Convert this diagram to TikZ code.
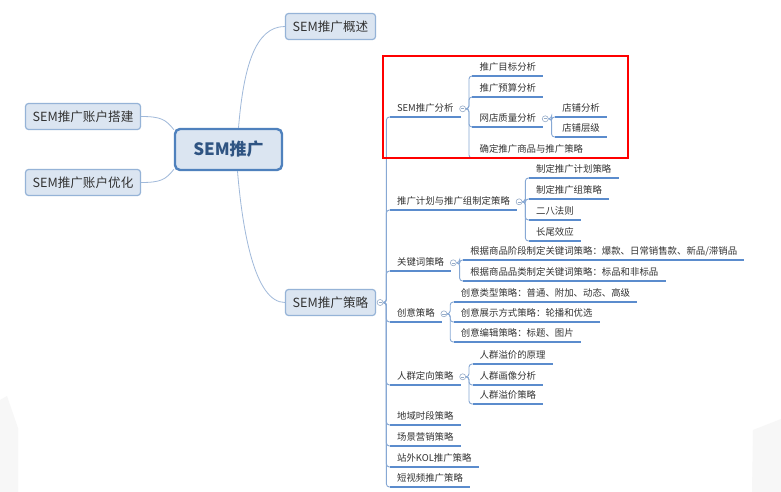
\documentclass[tikz,border=0pt]{standalone}
\usepackage{fontspec}
\newfontfamily\cjkfont{Noto Sans CJK SC}
\definecolor{boxfill}{RGB}{219,229,241}
\definecolor{boxline}{RGB}{149,179,215}
\definecolor{rootline}{RGB}{79,129,189}
\definecolor{roottext}{RGB}{47,84,130}
\definecolor{ulinec}{RGB}{91,140,205}
\definecolor{linkc}{RGB}{135,168,212}
\definecolor{branchc}{RGB}{160,185,218}
\definecolor{togc}{RGB}{150,172,200}
\definecolor{textc}{RGB}{51,51,51}
\begin{document}
\begin{tikzpicture}[x=1pt, y=1pt,
  every node/.style={font=\cjkfont, text=textc},
  rootbox/.style={draw=rootline, line width=2.4pt, fill=boxfill, rounded corners=5pt,
    minimum width=107pt, minimum height=41pt, text=roottext,
    font=\cjkfont\bfseries\fontsize{17}{20}\selectfont},
  topic/.style={draw=boxline, line width=1.2pt, fill=boxfill, rounded corners=3pt,
    minimum width=90pt, minimum height=26pt, font=\cjkfont\fontsize{12.6}{15}\selectfont},
  leaf/.style={anchor=south west, inner xsep=7pt, inner ysep=3pt, text height=8pt,
    text depth=2pt, font=\cjkfont\fontsize{9.4}{11}\selectfont},
  tog/.style={circle, draw=togc, line width=0.6pt, fill=white, inner sep=0pt, minimum size=6pt,
    path picture={\draw[togc, line width=0.6pt] ([xshift=1.4pt]path picture bounding box.west)
      -- ([xshift=-1.4pt]path picture bounding box.east);}},
  link/.style={draw=linkc, line width=0.9pt, rounded corners=3pt},
  uline/.style={draw=ulinec, line width=1.4pt},
  branch/.style={draw=branchc, line width=0.8pt}]
  \useasboundingbox[fill=white] (0,0) rectangle (781,-492);
  % faint shapes in the lower corners
  \fill[black!3] (0,-400) -- (7,-396) -- (18,-428) -- (18,-492) -- (0,-492) -- cycle;
  \fill[black!3] (781,-419) -- (753,-430) -- (752,-492) -- (781,-492) -- cycle;

  % centre and first level
  \node[rootbox] (root) at (228.5,-149.5) {SEM推广};
  \node[topic] (ov) at (330.5,-26.5) {SEM推广概述};
  \node[topic, minimum width=115pt] (acc) at (83,-116.5) {SEM推广账户搭建};
  \node[topic, minimum width=115pt] (opt) at (83,-182.5) {SEM推广账户优化};
  \node[topic] (st) at (330.5,-302.5) {SEM推广策略};
  \draw[branch] ([xshift=10pt]root.north) .. controls +(5,60) and +(-30,0) .. (ov.west);
  \draw[branch] ([xshift=9pt]root.south) .. controls +(5,-60) and +(-30,0) .. (st.west);
  \draw[branch] (root.160) .. controls +(-8,10) and +(20,0) .. (acc.east);
  \draw[branch] (root.200) .. controls +(-8,-10) and +(20,0) .. (opt.east);

  % strategy trunk
  \node[tog] (t0) at ([xshift=4pt]st.east) {};
  \coordinate (j0) at ([xshift=6.5pt]t0.east);
  \foreach \n/\y/\t in {s1/117/SEM推广分析, s2/210/推广计划与推广组制定策略, s3/271/关键词策略,
      s4/322/创意策略, s5/385/人群定向策略, s6/425/地域时段策略, s7/446/场景营销策略,
      s8/467/站外KOL推广策略, s9/487/短视频推广策略}
    \node[leaf] (\n) at (j0 |- 0,-\y) {\t};
  \foreach \n in {s1,s2,s3,s4,s5,s6,s7,s8,s9} {
    \draw[link] (t0.east) -- ++(3pt,0) |- ([xshift=1pt]\n.south west);
    \draw[uline] (\n.south west) -- (\n.south east);
  }

  % SEM analysis
  \node[tog] (t1) at ([xshift=2pt]s1.east) {};
  \coordinate (j1) at ([xshift=6.5pt]t1.east);
  \foreach \n/\y/\t in {a1/76/推广目标分析, a2/97/推广预算分析, a3/127/网店质量分析, a4/158/确定推广商品与推广策略}
    \node[leaf] (\n) at (j1 |- 0,-\y) {\t};
  \foreach \n in {a1,a2,a3,a4} {
    \draw[link] (t1.east) -- ++(3pt,0) |- ([xshift=1pt]\n.south west);
    \draw[uline] (\n.south west) -- (\n.south east);
  }
  \node[tog] (t1a) at ([xshift=2pt]a3.east) {};
  \coordinate (j1a) at ([xshift=6.5pt]t1a.east);
  \node[leaf] (b1) at (j1a |- 0,-117) {店铺分析};
  \node[leaf] (b2) at (j1a |- 0,-137) {店铺层级};
  \foreach \n in {b1,b2} {
    \draw[link] (t1a.east) -- ++(3pt,0) |- ([xshift=1pt]\n.south west);
    \draw[uline] (\n.south west) -- (\n.south east);
  }

  % plans and groups
  \node[tog] (t2) at ([xshift=2pt]s2.east) {};
  \coordinate (j2) at ([xshift=6.5pt]t2.east);
  \foreach \n/\y/\t in {c1/178/制定推广计划策略, c2/199/制定推广组策略, c3/220/二八法则, c4/241/长尾效应}
    \node[leaf] (\n) at (j2 |- 0,-\y) {\t};
  \foreach \n in {c1,c2,c3,c4} {
    \draw[link] (t2.east) -- ++(3pt,0) |- ([xshift=1pt]\n.south west);
    \draw[uline] (\n.south west) -- (\n.south east);
  }

  % keywords
  \node[tog] (t3) at ([xshift=2pt]s3.east) {};
  \coordinate (j3) at ([xshift=6.5pt]t3.east);
  \node[leaf] (d1) at (j3 |- 0,-260) {根据商品阶段制定关键词策略：爆款、日常销售款、新品/滞销品};
  \node[leaf] (d2) at (j3 |- 0,-281) {根据商品品类制定关键词策略：标品和非标品};
  \foreach \n in {d1,d2} {
    \draw[link] (t3.east) -- ++(3pt,0) |- ([xshift=1pt]\n.south west);
    \draw[uline] (\n.south west) -- (\n.south east);
  }

  % creatives
  \node[tog] (t4) at ([xshift=2pt]s4.east) {};
  \coordinate (j4) at ([xshift=6.5pt]t4.east);
  \foreach \n/\y/\t in {e1/302/创意类型策略：普通、附加、动态、高级, e2/322/创意展示方式策略：轮播和优选,
      e3/342/创意编辑策略：标题、图片}
    \node[leaf] (\n) at (j4 |- 0,-\y) {\t};
  \foreach \n in {e1,e2,e3} {
    \draw[link] (t4.east) -- ++(3pt,0) |- ([xshift=1pt]\n.south west);
    \draw[uline] (\n.south west) -- (\n.south east);
  }

  % audiences
  \node[tog] (t5) at ([xshift=2pt]s5.east) {};
  \coordinate (j5) at ([xshift=6.5pt]t5.east);
  \foreach \n/\y/\t in {f1/364/人群溢价的原理, f2/385/人群画像分析, f3/404/人群溢价策略}
    \node[leaf] (\n) at (j5 |- 0,-\y) {\t};
  \foreach \n in {f1,f2,f3} {
    \draw[link] (t5.east) -- ++(3pt,0) |- ([xshift=1pt]\n.south west);
    \draw[uline] (\n.south west) -- (\n.south east);
  }

  \draw[red, line width=2pt] (383,-56) rectangle (628,-158);
\end{tikzpicture}
\end{document}
